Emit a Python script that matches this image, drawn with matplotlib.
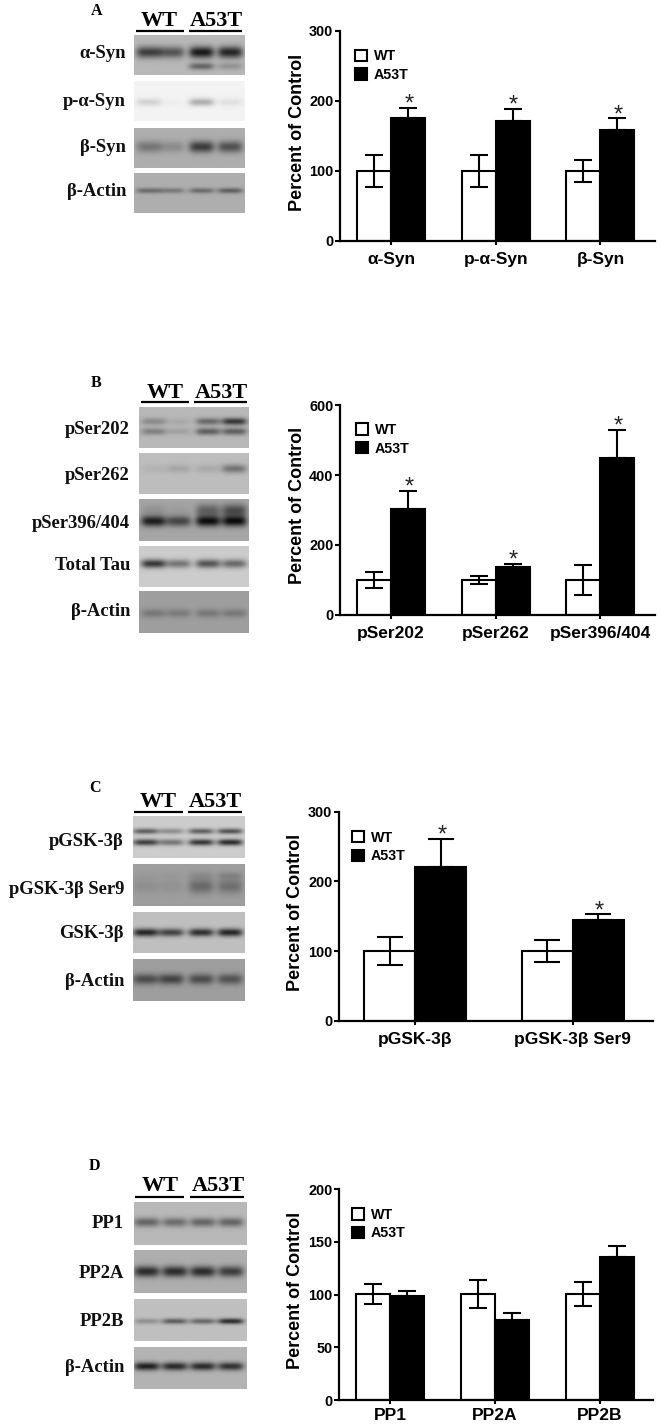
import numpy as np
import matplotlib
matplotlib.use("Agg")
import matplotlib.pyplot as plt
from matplotlib.patches import Patch

W, H = 660, 1424
SANS = "Liberation Sans"
SERIF = "Liberation Serif"

# ---- bar chart data ----
cats_a = ["α-Syn", "p-α-Syn", "β-Syn"]
wt_a = [100, 100, 100]
wt_lo_a = [77, 77, 84]
wt_hi_a = [123, 123, 116]
mut_a = [175, 171, 159]
mut_hi_a = [190, 189, 175]
star_a = [True, True, True]

cats_b = ["pSer202", "pSer262", "pSer396/404"]
wt_b = [100, 100, 100]
wt_lo_b = [78, 88, 57]
wt_hi_b = [124, 112, 144]
mut_b = [304, 138, 450]
mut_hi_b = [355, 147, 530]
star_b = [True, True, True]

cats_c = ["pGSK-3β", "pGSK-3β Ser9"]
wt_c = [100, 100]
wt_lo_c = [80, 84]
wt_hi_c = [120, 116]
mut_c = [221, 145]
mut_hi_c = [261, 153]
star_c = [True, True]

cats_d = ["PP1", "PP2A", "PP2B"]
wt_d = [101, 101, 101]
wt_lo_d = [91, 87, 89]
wt_hi_d = [110, 114, 112]
mut_d = [99, 76, 136]
mut_hi_d = [103, 83, 146]
star_d = [False, False, False]

ticks_a = [0, 100, 200, 300]
ticks_b = [0, 200, 400, 600]
ticks_c = [0, 100, 200, 300]
ticks_d = [0, 50, 100, 150, 200]

# ---- blot data: (label, background gray, [(band position, band thickness, lane darkness)]) ----
lanes_a = [.13, .34, .61, .87]
blots_a = [
    ("α-Syn", .72, [(.43, .15, [.66, .54, .86, .80]), (.79, .09, [0, 0, .45, .20])]),
    ("p-α-Syn", .95, [(.53, .10, [.13, .02, .28, .08])]),
    ("β-Syn", .68, [(.47, .15, [.32, .20, .66, .54])]),
    ("β-Actin", .68, [(.44, .07, [.38, .30, .38, .45])]),
]
lanes_b = [.13, .36, .63, .87]
blots_b = [
    ("pSer202", .72, [(.35, .09, [.25, .08, .42, .70]), (.60, .09, [.30, .12, .48, .48])]),
    ("pSer262", .74, [(.38, .11, [.05, .12, .10, .38])]),
    ("pSer396/404", .65, [(.53, .13, [.82, .58, .90, .90]), (.27, .16, [.12, .06, .42, .55])]),
    ("Total Tau", .80, [(.43, .11, [.72, .42, .58, .48])]),
    ("β-Actin", .62, [(.53, .11, [.24, .22, .24, .24])]),
]
lanes_c = [.11, .34, .61, .87]
blots_c = [
    ("pGSK-3β", .80, [(.36, .07, [.52, .30, .52, .58]), (.63, .08, [.68, .42, .72, .78])]),
    ("pGSK-3β Ser9", .62, [(.53, .18, [.10, .08, .34, .30]), (.27, .10, [.03, .03, .10, .15])]),
    ("GSK-3β", .75, [(.50, .10, [.80, .65, .75, .80])]),
    ("β-Actin", .62, [(.48, .13, [.52, .58, .52, .48])]),
]
lanes_d = [.11, .36, .61, .86]
blots_d = [
    ("PP1", .72, [(.47, .11, [.45, .40, .45, .45])]),
    ("PP2A", .68, [(.50, .13, [.75, .75, .75, .65])]),
    ("PP2B", .75, [(.53, .07, [.24, .50, .45, .76])]),
    ("β-Actin", .70, [(.46, .10, [.82, .76, .76, .72])]),
]

fig = plt.figure(figsize=(W / 100, H / 100), dpi=100, facecolor="white")
page = fig.add_axes([0, 0, 1, 1], zorder=0)
page.axis("off")


def draw_blot(row, lanes, left, right, top, bottom):
    name, bg, bands = row
    h, w = int(bottom - top), int(right - left)
    yy, xx = np.mgrid[0:1:h * 1j, 0:1:w * 1j]
    dark = np.zeros_like(xx)
    for pos, thick, levels in bands:
        for lane, lev in zip(lanes, levels):
            dark += lev * np.exp(-((xx - lane) / .115) ** 4) * np.exp(-((yy - pos) / thick) ** 2)
    img = np.clip(bg * (1 - np.clip(dark, 0, .93)), 0, 1)
    page.imshow(img, cmap="gray", vmin=0, vmax=1, extent=(left, right, bottom, top),
                aspect="auto", interpolation="bilinear")


def draw_left(letter, lxy, wt_xy, mut_xy, wt_line, mut_line, line_y, rows, lanes,
              left, right, tops, bottoms, label_x, label_ys):
    page.text(*lxy, letter, family=SERIF, weight="bold", size=11.5, ha="center", va="center")
    page.text(wt_xy[0], wt_xy[1] + 1, "WT", family=SERIF, weight="bold", size=16, ha="center", va="center")
    page.text(mut_xy[0], mut_xy[1] + 1, "A53T", family=SERIF, weight="bold", size=16, ha="center", va="center")
    page.plot(wt_line, [line_y, line_y], color="black", lw=1.6, solid_capstyle="butt")
    page.plot(mut_line, [line_y, line_y], color="black", lw=1.6, solid_capstyle="butt")
    for row, t, b, ly in zip(rows, tops, bottoms, label_ys):
        draw_blot(row, lanes, left, right, t, b)
        page.text(label_x, ly + 1, row[0], family=SERIF, weight="bold", size=13.4,
                  ha="right", va="center", color="#111111")


def draw_chart(cats, wt, lo, hi, mut, mhi, stars, yticks, ax_left, ax_right, y0, y1,
               tick0, tick_step, leg_xy, leg_pitch, ylab_xy, capsize, xpad=5):
    ax = fig.add_axes([ax_left / W, 1 - y0 / H, (ax_right - ax_left) / W, (y0 - y1) / H], zorder=2)
    ax.patch.set_alpha(0)
    x = np.arange(len(cats))
    bw = .325
    wt = np.array(wt, float)
    mut = np.array(mut, float)
    ax.bar(x - bw / 2, wt, bw, color="white", edgecolor="black", linewidth=1.5, zorder=2)
    ax.bar(x + bw / 2, mut, bw, color="black", edgecolor="black", linewidth=1.5, zorder=2)
    ax.errorbar(x - bw / 2, wt, yerr=[wt - np.array(lo), np.array(hi) - wt], fmt="none",
                ecolor="black", elinewidth=1.5, capsize=capsize, capthick=1.5, zorder=3)
    ax.errorbar(x + bw / 2, mut, yerr=[np.zeros_like(mut), np.array(mhi) - mut], fmt="none",
                ecolor="black", elinewidth=1.5, capsize=capsize, capthick=1.5, zorder=3)
    for xi, top, s in zip(x, mhi, stars):
        if s:
            ax.annotate("*", (xi + bw / 2, top), xytext=(1, -3), textcoords="offset pixels",
                        ha="center", va="baseline", family=SANS, size=17, color="#222222")
    ax.set_xlim((ax_left - tick0) / tick_step, (ax_right - tick0) / tick_step)
    ax.set_ylim(0, yticks[-1])
    ax.set_xticks(x)
    ax.set_xticklabels(cats, family=SANS, weight="bold", size=12.5)
    ax.set_yticks(yticks)
    ax.set_yticklabels([str(t) for t in yticks], family=SANS, weight="bold", size=10.4)
    ax.tick_params(axis="y", length=3.6, width=1.5, pad=0.8)
    ax.tick_params(axis="x", length=3, width=1.5, pad=xpad)
    for s in ("top", "right"):
        ax.spines[s].set_visible(False)
    for s in ("left", "bottom"):
        ax.spines[s].set_linewidth(1.6)
    fig.text(ylab_xy[0] / W, 1 - ylab_xy[1] / H, "Percent of Control", family=SANS, weight="bold",
             size=13, rotation=90, ha="center", va="center", zorder=3)
    fs = 10.3 * 100 / 72
    handles = [Patch(facecolor="white", edgecolor="black", linewidth=1.5, label="WT"),
               Patch(facecolor="black", edgecolor="black", linewidth=1.5, label="A53T")]
    ax.legend(handles=handles, loc="upper left", bbox_to_anchor=(leg_xy[0] / W, 1 - leg_xy[1] / H),
              bbox_transform=fig.transFigure, frameon=False, borderpad=0, borderaxespad=0,
              prop={"family": SANS, "weight": "bold", "size": 10.3},
              handlelength=12 / fs, handleheight=12 / fs, handletextpad=7 / fs,
              labelspacing=(leg_pitch - fs) / fs)
    return ax


draw_left("A", (97, 11), (159, 20), (216, 20), (136, 184), (189, 242), 31, blots_a, lanes_a,
          134, 245, [35, 81, 128, 173], [75, 121, 168, 213], 126, [52, 101, 146, 191])
draw_chart(cats_a, wt_a, wt_lo_a, wt_hi_a, mut_a, mut_hi_a, star_a, ticks_a,
           339.5, 655, 240.7, 31, 391, 104.7, (354.5, 49.5), 18.7, (298, 132), 6.5)

draw_left("B", (96, 383), (165, 392), (221, 392), (141, 189), (194, 247), 402, blots_b, lanes_b,
          139, 249, [407, 453, 499, 546, 591], [448, 494, 541, 587, 633], 130,
          [428, 474, 523, 564, 611])
draw_chart(cats_b, wt_b, wt_lo_b, wt_hi_b, mut_b, mut_hi_b, star_b, ticks_b,
           339.5, 655, 615, 405, 391, 104.7, (355.5, 423), 19, (298, 505), 6.5)

draw_left("C", (95, 788), (158, 801), (215, 801), (134, 183), (188, 242), 812, blots_c, lanes_c,
          133, 245, [816, 864, 912, 959], [858, 906, 953, 1001], 124, [841, 888, 933, 980])
draw_chart(cats_c, wt_c, wt_lo_c, wt_hi_c, mut_c, mut_hi_c, star_c, ticks_c,
           338.5, 653, 1020.7, 811.7, 415.3, 157.4, (352, 830.5), 19, (296, 912), 9.7)

draw_left("D", (94, 1166), (160, 1185), (218, 1185), (135, 184), (190, 244), 1197, blots_d, lanes_d,
          134, 247, [1202, 1250, 1299, 1347], [1245, 1293, 1341, 1389], 124,
          [1223, 1272, 1321, 1366])
draw_chart(cats_d, wt_d, wt_lo_d, wt_hi_d, mut_d, mut_hi_d, star_d, ticks_d,
           338.5, 653, 1400, 1189.3, 390, 105, (352, 1208), 18.7, (296, 1290), 6.5, xpad=3)

page.set_xlim(0, W)
page.set_ylim(H, 0)
fig.savefig("out.png", dpi=100, facecolor="white")
